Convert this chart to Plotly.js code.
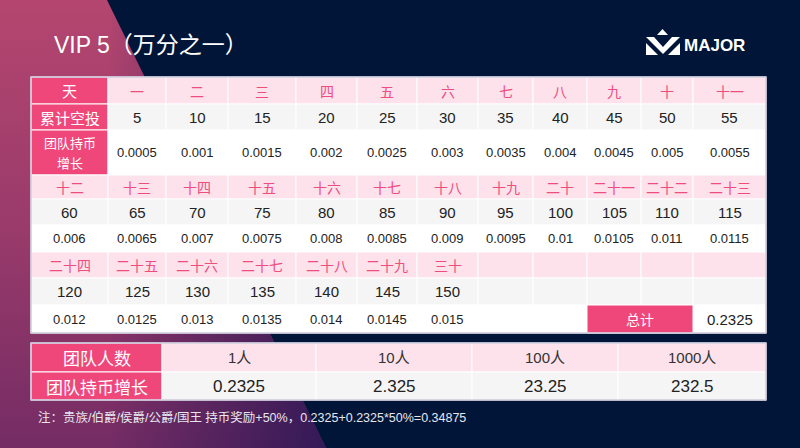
<!DOCTYPE html>
<html>
<head>
<meta charset="utf-8">
<script src="https://cdn.plot.ly/plotly-3.0.1.min.js"></script>
<style>
html, body { margin: 0; padding: 0; background: #011538; }
#chart { width: 800px; height: 448px; }
</style>
</head>
<body>
<div id="chart"></div>
<script>
// table content
var dayLabels = ['一', '二', '三', '四', '五', '六', '七', '八', '九', '十',
    '十一', '十二', '十三', '十四', '十五', '十六', '十七', '十八', '十九', '二十',
    '二十一', '二十二', '二十三', '二十四', '二十五', '二十六', '二十七', '二十八', '二十九', '三十'];
var airdrop = [5, 10, 15, 20, 25, 30, 35, 40, 45, 50,
    55, 60, 65, 70, 75, 80, 85, 90, 95, 100,
    105, 110, 115, 120, 125, 130, 135, 140, 145, 150];
var growth = ['0.0005', '0.001', '0.0015', '0.002', '0.0025', '0.003', '0.0035', '0.004', '0.0045', '0.005',
    '0.0055', '0.006', '0.0065', '0.007', '0.0075', '0.008', '0.0085', '0.009', '0.0095', '0.01',
    '0.0105', '0.011', '0.0115', '0.012', '0.0125', '0.013', '0.0135', '0.014', '0.0145', '0.015'];
var rowHeaders = ['天', '累计空投', ['团队持币', '增长']];
var totalLabel = '总计';
var totalValue = '0.2325';
var teamHeaders = ['团队人数', '团队持币增长'];
var teamSizes = ['1人', '10人', '100人', '1000人'];
var teamGrowth = ['0.2325', '2.325', '23.25', '232.5'];

var titleText = 'VIP 5（万分之一）';
var noteText = '注：贵族/伯爵/侯爵/公爵/国王 持币奖励+50%，0.2325+0.2325*50%=0.34875';

// grid in pixels
var colEdges = [31, 108, 166, 228, 296, 357, 417, 478, 533, 587, 641, 693, 766];
var blockRows = [[77, 104, 130, 175], [175, 199, 225, 252], [252, 278, 305, 333]];
var blockStartCol = [1, 0, 0];
var teamCols = [31, 162, 316, 472, 618, 766];
var teamRows = [343, 372, 400];

var PINK = '#f0477b';
var LIGHT = '#fde2eb';
var GRAY = '#f5f5f5';
var WHITE = '#ffffff';
var rowFills = [LIGHT, GRAY, WHITE];
var NUM_FONT = 'Liberation Sans, Noto Sans CJK SC, sans-serif';
var CJK_FONT = 'Noto Sans CJK SC, sans-serif';

var shapes = [];
var annotations = [];

function cell(x0, x1, y0, y1, fill) {
    shapes.push({
        type: 'rect', xref: 'x', yref: 'y', x0: x0, x1: x1, y0: y0, y1: y1,
        fillcolor: fill, line: { color: WHITE, width: 1 }
    });
}

function label(x, y, text, size, color, family) {
    annotations.push({
        x: x, y: y, xref: 'x', yref: 'y', text: text, showarrow: false,
        xanchor: 'center', yanchor: 'middle',
        font: { size: size, color: color, family: family || NUM_FONT }
    });
}

// main table
var dayIndex = 0;
for (var b = 0; b < blockRows.length; b++) {
    var rows = blockRows[b];
    for (var r = 0; r < 3; r++) {
        for (var c = 0; c < 12; c++) {
            var fill = (b === 0 && c === 0) ? PINK : rowFills[r];
            cell(colEdges[c], colEdges[c + 1], rows[r], rows[r + 1], fill);
        }
    }
    if (b === 0) {
        var hx = (colEdges[0] + colEdges[1]) / 2;
        label(hx, (rows[0] + rows[1]) / 2, rowHeaders[0], 15, WHITE, CJK_FONT);
        label(hx, (rows[1] + rows[2]) / 2, rowHeaders[1], 15, WHITE, CJK_FONT);
        // two-line header, one label per line
        label(hx, rows[2] + 12, rowHeaders[2][0], 13, WHITE, CJK_FONT);
        label(hx, rows[2] + 32, rowHeaders[2][1], 13, WHITE, CJK_FONT);
    }
    for (var c = blockStartCol[b]; c < 12 && dayIndex < dayLabels.length; c++) {
        var cx = (colEdges[c] + colEdges[c + 1]) / 2;
        label(cx, (rows[0] + rows[1]) / 2, dayLabels[dayIndex], 14, '#ee4d80', CJK_FONT);
        label(cx, (rows[1] + rows[2]) / 2, String(airdrop[dayIndex]), 15, '#222222');
        label(cx, (rows[2] + rows[3]) / 2, growth[dayIndex], 13, '#222222');
        dayIndex++;
    }
}

// total cell
var lastRow = blockRows[2];
cell(colEdges[9], colEdges[11], lastRow[2], lastRow[3], PINK);
label((colEdges[9] + colEdges[11]) / 2, (lastRow[2] + lastRow[3]) / 2, totalLabel, 14, WHITE, CJK_FONT);
label((colEdges[11] + colEdges[12]) / 2, (lastRow[2] + lastRow[3]) / 2, totalValue, 15, '#222222');

shapes.push({
    type: 'rect', xref: 'x', yref: 'y', x0: colEdges[0], x1: colEdges[12], y0: blockRows[0][0], y1: blockRows[2][3],
    line: { color: '#cdcadc', width: 1.5 }
});

// team table
for (var r = 0; r < 2; r++) {
    var ty = (teamRows[r] + teamRows[r + 1]) / 2;
    cell(teamCols[0], teamCols[1], teamRows[r], teamRows[r + 1], PINK);
    label((teamCols[0] + teamCols[1]) / 2, ty, teamHeaders[r], 17, WHITE, CJK_FONT);
    for (var c = 1; c < teamCols.length - 1; c++) {
        cell(teamCols[c], teamCols[c + 1], teamRows[r], teamRows[r + 1], r === 0 ? LIGHT : GRAY);
        var cx = (teamCols[c] + teamCols[c + 1]) / 2;
        if (r === 0) label(cx, ty, teamSizes[c - 1], 15, '#333333');
        else label(cx, ty, teamGrowth[c - 1], 17, '#222222');
    }
}
shapes.push({
    type: 'rect', xref: 'x', yref: 'y', x0: teamCols[0], x1: teamCols[5], y0: teamRows[0], y1: teamRows[2],
    line: { color: '#cdcadc', width: 1.5 }
});

// title, note, logo
annotations.push({
    x: 52, y: 45, xref: 'x', yref: 'y', text: titleText, showarrow: false,
    xanchor: 'left', yanchor: 'middle', font: { size: 23, color: WHITE, family: NUM_FONT }
});
annotations.push({
    x: 36, y: 417, xref: 'x', yref: 'y', text: noteText, showarrow: false,
    xanchor: 'left', yanchor: 'middle', font: { size: 12.5, color: '#e6e6ee', family: NUM_FONT }
});
annotations.push({
    x: 682, y: 45, xref: 'x', yref: 'y', text: '<b>MAJOR</b>', showarrow: false,
    xanchor: 'left', yanchor: 'middle', font: { size: 17, color: WHITE, family: 'Liberation Sans, sans-serif' }
});
var logoPaths = [
    'M 657 35 L 662.5 29 L 668 35 Z',
    'M 646 37 L 654 37 L 663 47 L 672 37 L 680 37 L 663 54 Z',
    'M 646 43 L 646 55 L 658 55 Z',
    'M 680 43 L 680 55 L 668 55 Z'
];
logoPaths.forEach(function (p) {
    shapes.push({ type: 'path', xref: 'x', yref: 'y', path: p, fillcolor: WHITE, line: { width: 0 } });
});

// background wedge
var wedge = {
    x: [0, 107, 326, 0], y: [0, 0, 448, 448],
    type: 'scatter', mode: 'lines', fill: 'toself', line: { width: 0 }, hoverinfo: 'skip',
    fillgradient: { type: 'vertical', start: 0, stop: 448, colorscale: [[0, '#b4466f'], [0.5, '#9a3b6b'], [1, '#742c64']] }
};
var shade = {
    x: [107, 326, 0], y: [0, 448, 448],
    type: 'scatter', mode: 'lines', fill: 'toself', line: { width: 0 }, hoverinfo: 'skip',
    fillgradient: { type: 'horizontal', start: 0, stop: 326, colorscale: [[0, 'rgba(40,22,85,0)'], [0.33, 'rgba(40,22,85,0)'], [1, 'rgba(40,22,85,0.85)']] }
};

var layout = {
    width: 800, height: 448,
    margin: { l: 0, r: 0, t: 0, b: 0 },
    paper_bgcolor: '#011538',
    plot_bgcolor: 'rgba(0,0,0,0)',
    showlegend: false,
    xaxis: { range: [0, 800], visible: false, fixedrange: true },
    yaxis: { range: [448, 0], visible: false, fixedrange: true },
    shapes: shapes,
    annotations: annotations
};

Plotly.newPlot('chart', [wedge, shade], layout, { staticPlot: true, displayModeBar: false });
</script>
</body>
</html>
